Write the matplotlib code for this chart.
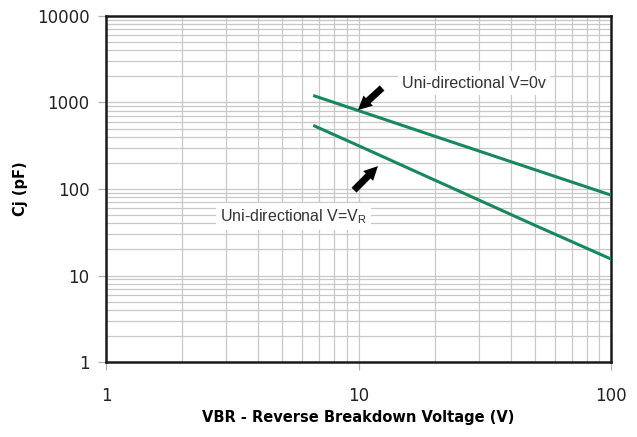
import matplotlib.pyplot as plt
from matplotlib.ticker import LogLocator, NullFormatter, FixedLocator, FixedFormatter

# data
vbr = [6.7, 10, 20, 50, 100]
cj_v0 = [1190, 805, 408, 167, 85]
cj_vr = [535, 317, 127, 38, 15.5]

x_ticks = [1, 10, 100]
y_ticks = [1, 10, 100, 1000, 10000]

green = '#15895c'

fig = plt.figure(figsize=(6.37, 4.37), dpi=100)
ax = fig.add_axes([0.1664, 0.1716, 0.7928, 0.7918])

ax.plot(vbr, cj_v0, color=green, lw=2.2, zorder=3)
ax.plot(vbr, cj_vr, color=green, lw=2.2, zorder=3)

ax.set_xscale('log')
ax.set_yscale('log')
ax.set_xlim(1, 100)
ax.set_ylim(1, 10000)

ax.xaxis.set_major_locator(FixedLocator(x_ticks))
ax.xaxis.set_major_formatter(FixedFormatter([str(t) for t in x_ticks]))
ax.yaxis.set_major_locator(FixedLocator(y_ticks))
ax.yaxis.set_major_formatter(FixedFormatter([str(t) for t in y_ticks]))
ax.xaxis.set_minor_locator(LogLocator(base=10, subs=range(2, 10)))
ax.yaxis.set_minor_locator(LogLocator(base=10, subs=range(2, 10)))
ax.xaxis.set_minor_formatter(NullFormatter())
ax.yaxis.set_minor_formatter(NullFormatter())

ax.grid(which='both', color='#c8c8c8', lw=0.9, zorder=0)
ax.set_axisbelow(True)
ax.tick_params(which='minor', length=0)
ax.tick_params(which='major', length=6, width=0.9, color='#b0b0b0',
               labelsize=12, labelcolor='#222222', pad=6)
ax.tick_params(axis='x', pad=12)
for s in ax.spines.values():
    s.set_linewidth(1.8)
    s.set_color('#1a1a1a')

ax.set_xlabel('VBR - Reverse Breakdown Voltage (V)', fontsize=10.5,
              fontweight='bold')
ax.set_ylabel('Cj (pF)', fontsize=10.5, fontweight='bold')
ax.xaxis.set_label_coords(0.5, -0.159)
ax.yaxis.set_label_coords(-0.17, 0.5)
ax.xaxis.label.set_va('center')
ax.yaxis.label.set_va('center')

box = dict(facecolor='white', edgecolor='none', pad=3)
ax.text(14.9, 1680, 'Uni-directional V=0v', fontsize=11.5, color='#333333',
        family='Liberation Sans', va='center', bbox=box, zorder=4)
ax.text(2.83, 47.5, 'Uni-directional V=V$_\\mathregular{R}$', fontsize=11.5,
        color='#333333', family='Liberation Sans', va='center', bbox=box,
        zorder=4)

arrow = dict(arrowstyle='simple,head_length=1.0,head_width=1.0,tail_width=0.5',
             color='black', lw=0, shrinkA=0, shrinkB=0)
ax.annotate('', xy=(9.95, 819), xytext=(12.4, 1472), arrowprops=arrow, zorder=5)
ax.annotate('', xy=(11.94, 184), xytext=(9.6, 97), arrowprops=arrow, zorder=5)

fig.savefig('out.png', dpi=100)
